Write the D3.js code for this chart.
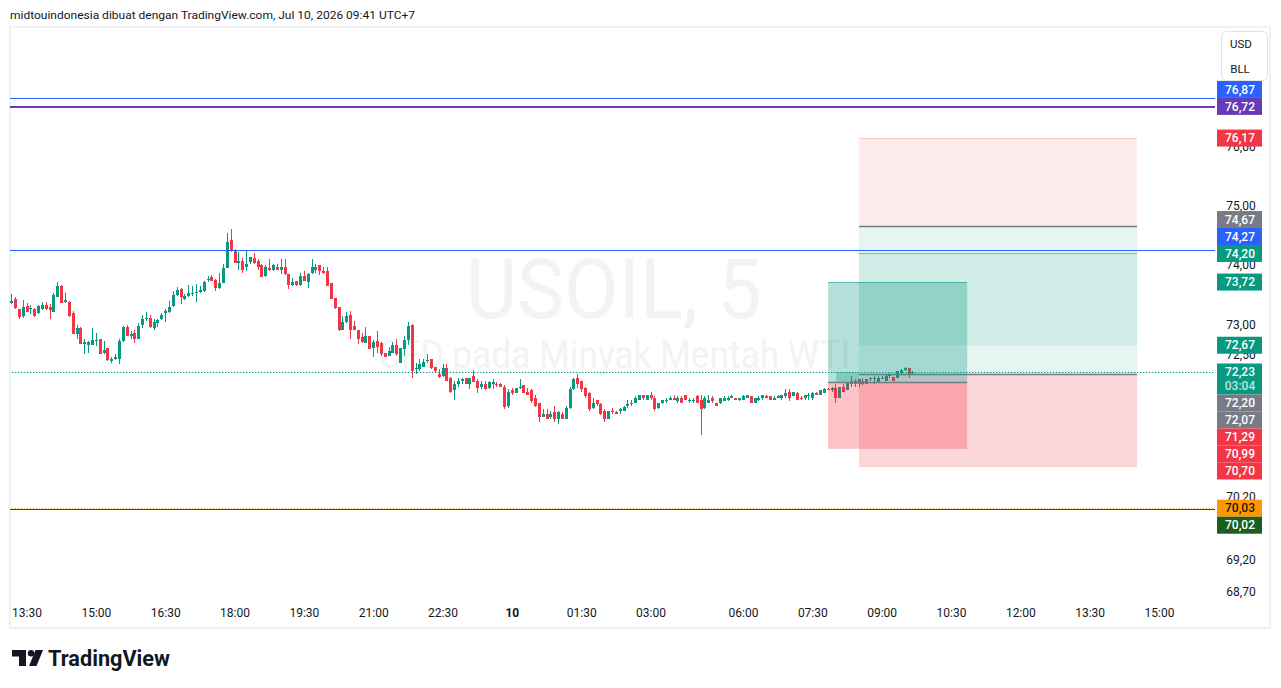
<!DOCTYPE html>
<html>
<head>
<meta charset="utf-8">
<script src="https://cdn.jsdelivr.net/npm/d3@7"></script>
<style>
  body { margin: 0; background: #fff; }
  svg { display: block; font-family: Roboto, "Noto Sans", sans-serif; }
</style>
</head>
<body>
<svg id="chart" width="1281" height="688"></svg>
<script>
// USOIL 5m bars, first bar 13:10 (Jul 9), one hour session break after index 177
const opens = [
  73.37,73.43,73.27,73.15,73.32,73.27,73.27,73.20,73.27,73.33,
  73.30,73.22,73.47,73.65,73.38,73.38,73.20,72.85,72.95,72.69,
  72.67,72.67,72.74,72.77,72.55,72.62,72.41,72.45,72.45,72.74,
  72.97,72.83,72.87,72.78,73.00,73.10,73.12,72.95,73.03,73.10,
  73.20,73.22,73.32,73.50,73.60,73.43,73.48,73.52,73.53,73.55,
  73.57,73.75,73.80,73.75,73.62,73.70,73.95,74.42,74.24,74.04,
  74.07,73.97,74.05,74.12,74.07,74.00,73.82,73.95,73.93,73.98,
  73.93,73.98,73.85,73.67,73.73,73.67,73.82,73.72,73.87,73.93,
  74.00,73.90,73.90,73.70,73.45,73.30,72.93,73.05,73.17,72.98,
  72.92,72.80,72.70,72.82,72.62,72.74,72.70,72.54,72.50,72.55,
  72.67,72.37,72.60,72.75,73.00,72.28,72.28,72.32,72.41,72.44,
  72.31,72.19,72.16,72.29,72.13,71.93,72.04,72.09,72.13,72.03,
  72.16,72.09,71.99,72.04,71.96,72.04,72.04,72.04,71.98,71.67,
  71.93,71.88,71.96,72.01,71.91,71.93,71.80,71.72,71.50,71.55,
  71.49,71.57,71.47,71.55,71.47,71.64,71.95,72.13,72.08,71.96,
  71.88,71.64,71.77,71.70,71.60,71.47,71.59,71.57,71.59,71.60,
  71.67,71.72,71.73,71.78,71.85,71.78,71.86,71.81,71.64,71.72,
  71.75,71.78,71.80,71.75,71.81,71.86,71.77,71.77,71.83,71.78,
  71.64,71.72,71.81,71.72,71.72,71.75,71.77,71.81,71.81,71.77,
  71.78,71.81,71.83,71.73,71.77,71.80,71.83,71.83,71.78,71.81,
  71.80,71.83,71.90,71.83,71.88,71.81,71.80,71.83,71.80,71.88,
  71.86,71.88,71.95,71.93,71.96,71.80,71.99,71.93,72.08,72.03,
  72.11,72.04,72.04,72.11,72.11,72.06,72.11,72.09,72.16,72.14,
  72.13,72.21,72.26,72.29,72.21
];
const highs = [
  73.52,73.47,73.27,73.42,73.37,73.33,73.28,73.33,73.38,73.38,
  73.35,73.53,73.72,73.67,73.53,73.40,73.23,73.00,72.97,72.78,
  72.74,72.95,72.88,72.78,72.74,72.62,72.47,72.52,72.78,72.98,
  73.00,72.90,72.93,73.03,73.17,73.22,73.17,73.10,73.10,73.20,
  73.27,73.40,73.57,73.63,73.62,73.52,73.67,73.65,73.69,73.65,
  73.73,73.82,73.84,73.77,73.87,74.02,74.54,74.61,74.27,74.22,
  74.12,74.24,74.14,74.21,74.10,74.02,74.00,74.10,74.02,74.02,
  74.10,74.10,73.85,73.78,73.73,73.87,73.90,73.87,74.10,74.02,
  74.00,73.98,73.98,73.70,73.45,73.30,73.15,73.22,73.23,73.07,
  72.93,72.87,72.97,72.82,72.75,72.90,72.72,72.54,72.64,72.72,
  72.77,72.62,72.83,73.05,73.02,72.37,72.44,72.45,72.52,72.44,
  72.32,72.28,72.36,72.36,72.14,72.09,72.13,72.13,72.13,72.13,
  72.26,72.11,72.08,72.08,72.09,72.11,72.06,72.05,72.01,71.95,
  71.96,71.96,72.11,72.01,71.96,71.95,71.86,71.73,71.62,71.62,
  71.59,71.67,71.59,71.57,71.67,71.98,72.13,72.19,72.09,71.99,
  71.91,71.80,71.78,71.72,71.62,71.60,71.64,71.59,71.64,71.67,
  71.78,71.77,71.83,71.86,71.86,71.86,71.91,71.83,71.73,71.78,
  71.80,71.83,71.86,71.83,71.83,71.86,71.80,71.81,71.85,71.85,
  71.83,71.85,71.83,71.73,71.81,71.83,71.83,71.85,71.81,71.81,
  71.86,71.85,71.83,71.80,71.83,71.86,71.86,71.83,71.83,71.85,
  71.86,71.95,71.95,71.91,71.90,71.83,71.86,71.88,71.90,71.90,
  71.93,71.96,71.96,71.98,72.03,71.98,72.03,72.06,72.16,72.11,
  72.11,72.13,72.11,72.14,72.16,72.16,72.16,72.19,72.21,72.14,
  72.24,72.28,72.31,72.29,72.25
];
const lows = [
  73.36,73.27,73.10,73.12,73.22,73.18,73.13,73.18,73.25,73.25,
  73.10,73.22,73.47,73.37,73.37,73.13,72.85,72.78,72.69,72.52,
  72.54,72.67,72.65,72.52,72.52,72.41,72.37,72.42,72.36,72.72,
  72.82,72.78,72.70,72.77,72.95,73.07,72.95,72.93,72.97,73.08,
  73.05,73.20,73.30,73.48,73.35,73.42,73.47,73.48,73.38,73.53,
  73.55,73.72,73.73,73.57,73.60,73.70,73.95,74.22,74.04,73.93,
  73.87,73.90,74.02,74.02,73.93,73.80,73.80,73.90,73.90,73.92,
  73.85,73.84,73.60,73.65,73.65,73.65,73.73,73.62,73.85,73.87,
  73.84,73.85,73.65,73.43,73.27,72.90,72.93,73.03,72.78,72.93,
  72.69,72.70,72.70,72.60,72.47,72.54,72.50,72.47,72.49,72.54,
  72.49,72.37,72.49,72.67,72.13,72.19,72.24,72.31,72.37,72.28,
  72.21,72.13,72.14,72.08,71.88,71.78,71.99,72.03,72.03,71.95,
  72.06,71.88,71.95,71.93,71.95,71.95,71.99,71.98,71.62,71.64,
  71.86,71.88,71.95,71.88,71.85,71.73,71.65,71.41,71.49,71.47,
  71.46,71.41,71.39,71.47,71.47,71.62,71.93,71.96,71.91,71.81,
  71.60,71.62,71.68,71.52,71.41,71.46,71.55,71.54,71.55,71.59,
  71.64,71.68,71.72,71.78,71.78,71.78,71.78,71.60,71.62,71.70,
  71.73,71.77,71.77,71.72,71.72,71.77,71.72,71.72,71.72,71.20,
  71.62,71.72,71.73,71.67,71.70,71.75,71.75,71.81,71.77,71.75,
  71.78,71.81,71.73,71.73,71.75,71.78,71.80,71.77,71.78,71.80,
  71.78,71.81,71.75,71.83,71.78,71.78,71.78,71.78,71.78,71.85,
  71.86,71.88,71.93,71.91,71.73,71.80,71.90,71.93,71.99,71.99,
  71.98,72.01,72.04,72.09,72.04,72.06,72.11,72.08,72.13,72.08,
  72.13,72.19,72.24,72.13,72.19
];
const closes = [
  73.40,73.28,73.13,73.30,73.22,73.28,73.15,73.32,73.33,73.27,
  73.25,73.50,73.65,73.37,73.42,73.15,72.85,72.95,72.69,72.72,
  72.72,72.75,72.75,72.52,72.59,72.42,72.45,72.47,72.74,72.97,
  72.82,72.85,72.77,72.98,73.10,73.12,72.97,73.05,73.08,73.17,
  73.23,73.30,73.50,73.58,73.47,73.48,73.53,73.54,73.55,73.58,
  73.72,73.77,73.73,73.62,73.70,73.95,74.39,74.24,74.04,74.07,
  73.93,74.02,74.14,74.04,73.97,73.80,73.98,73.93,74.00,73.92,
  73.97,73.85,73.67,73.72,73.67,73.82,73.73,73.85,73.97,73.98,
  73.90,73.88,73.65,73.43,73.28,72.92,73.05,73.15,72.93,72.93,
  72.77,72.72,72.83,72.60,72.72,72.64,72.52,72.47,72.57,72.67,
  72.52,72.62,72.75,72.98,72.24,72.29,72.36,72.39,72.42,72.29,
  72.24,72.14,72.29,72.09,71.91,72.04,72.08,72.11,72.03,72.13,
  72.06,71.96,72.03,71.95,72.06,72.06,72.03,71.98,71.65,71.91,
  71.88,71.96,71.99,71.88,71.86,71.75,71.67,71.50,71.54,71.47,
  71.55,71.47,71.57,71.47,71.64,71.95,72.11,72.04,71.95,71.83,
  71.62,71.73,71.70,71.54,71.46,71.59,71.57,71.55,71.62,71.65,
  71.70,71.73,71.80,71.85,71.81,71.86,71.80,71.62,71.72,71.77,
  71.78,71.81,71.78,71.80,71.73,71.78,71.78,71.78,71.72,71.62,
  71.81,71.78,71.75,71.68,71.80,71.81,71.81,71.83,71.77,71.80,
  71.83,71.85,71.73,71.80,71.81,71.85,71.81,71.78,71.81,71.83,
  71.85,71.88,71.80,71.90,71.78,71.80,71.86,71.86,71.88,71.86,
  71.93,71.95,71.94,71.96,71.80,71.98,71.91,72.06,72.04,72.09,
  72.03,72.08,72.11,72.13,72.13,72.13,72.13,72.16,72.18,72.09,
  72.24,72.26,72.29,72.19,72.23
];

// time axis (bar index -> label)
const timeTickIdx = [4, 22, 40, 58, 76, 94, 112, 130, 148, 166, 190, 208, 226, 244, 262, 280, 298];
const timeTickLabels = ["13:30","15:00","16:30","18:00","19:30","21:00","22:30","10","01:30","03:00","06:00","07:30","09:00","10:30","12:00","13:30","15:00"];

// price axis ticks
const priceTicks = [76, 75, 74, 73, 72.5, 70.2, 69.2, 68.7];

// horizontal lines drawn on the chart
const hLinePrices = [76.87, 76.72, 74.27, 70.02, 70.03];
const hLineColors = ["#2962FF", "#673AB7", "#2962FF", "#3b4a1c", "#FF9800"];

// position tools: start / end bar index, entry, target, stop
const toolStart = [220.1, 220.1, 212.1];
const toolEnd = [292.3, 292.3, 248.2];
const toolEntry = [74.67, 72.20, 72.07];
const toolTarget = [72.67, 74.20, 73.72];
const toolStop = [76.17, 70.70, 70.99];

// price axis labels
const axisLabelPrices = [76.87, 76.72, 76.17, 74.67, 74.27, 74.20, 73.72, 72.67, 72.23, 72.20, 72.07, 71.29, 70.99, 70.70, 70.03, 70.02];
const lastPrice = 72.23;
const countdown = "03:04";

// ---------------------------------------------------------------
const up = "#089981", down = "#F23645";
const plotL = 10, plotR = 1215, plotT = 29, plotB = 601;

const svg = d3.select("#chart");
const defs = svg.append("defs");

const x = d3.scaleLinear().domain([0, 298]).range([11.1, 11.1 + 298 * 3.852]);
const y = d3.scaleLog().domain([68.57, 78.08]).range([plotB, plotT]);

const fmt = v => v.toFixed(2).replace(".", ",");

defs.append("clipPath").attr("id", "plotClip")
  .append("rect").attr("x", plotL).attr("y", 28)
  .attr("width", plotR - plotL).attr("height", 572);
defs.append("pattern")
  .attr("id", "dotsOrange").attr("patternUnits", "userSpaceOnUse")
  .attr("width", 3).attr("height", 1)
  .append("rect").attr("width", 1).attr("height", 1).attr("fill", "#FF9800");
defs.append("pattern")
  .attr("id", "dotsTeal").attr("patternUnits", "userSpaceOnUse")
  .attr("width", 3).attr("height", 2)
  .append("rect").attr("width", 1.4).attr("height", 2).attr("fill", up);

// header
svg.append("text")
  .attr("x", 10).attr("y", 18.5)
  .attr("font-size", 11.5).attr("fill", "#131722")
  .attr("textLength", 405).attr("lengthAdjust", "spacingAndGlyphs")
  .text("midtouindonesia dibuat dengan TradingView.com, Jul 10, 2026 09:41 UTC+7");

// frame
svg.append("rect")
  .attr("x", 10).attr("y", 27).attr("width", 1260).attr("height", 601)
  .attr("fill", "none").attr("stroke", "#eff1f4").attr("stroke-width", 2);

const plot = svg.append("g").attr("clip-path", "url(#plotClip)");

// watermark
plot.append("text")
  .attr("x", 614).attr("y", 318)
  .attr("text-anchor", "middle").attr("font-size", 84)
  .attr("fill", "#f3f3f4")
  .attr("textLength", 296).attr("lengthAdjust", "spacingAndGlyphs")
  .text("USOIL, 5");
plot.append("text")
  .attr("x", 614).attr("y", 368)
  .attr("text-anchor", "middle").attr("font-size", 39)
  .attr("fill", "#f3f3f4")
  .attr("textLength", 472).attr("lengthAdjust", "spacingAndGlyphs")
  .text("CFD pada Minyak Mentah WTI");

// candles
const bars = opens.map((o, i) => ({ i, o, h: highs[i], l: lows[i], c: closes[i] }));
const colorOf = d => d.c >= d.o ? up : down;

plot.append("g").selectAll("rect")
  .data(bars).join("rect")
  .attr("x", d => Math.round(x(d.i)))
  .attr("y", d => Math.round(y(d.h)))
  .attr("width", 1)
  .attr("height", d => Math.max(1, Math.round(y(d.l)) - Math.round(y(d.h))))
  .attr("fill", colorOf);

plot.append("g").selectAll("rect")
  .data(bars).join("rect")
  .attr("x", d => Math.round(x(d.i)) - 1)
  .attr("y", d => Math.round(y(Math.max(d.o, d.c))))
  .attr("width", 3)
  .attr("height", d => Math.max(1, Math.round(y(Math.min(d.o, d.c))) - Math.round(y(Math.max(d.o, d.c)))))
  .attr("fill", colorOf);

// position tools
const profitAlpha = [0.1, 0.1, 0.3];
const stopAlpha = [0.1, 0.2, 0.3];
const targetLineAlpha = [0, 0.55, 0.55];
const tools = toolEntry.map((e, i) => ({
  x0: x(toolStart[i]), x1: x(toolEnd[i]), entry: e, target: toolTarget[i], stop: toolStop[i],
  pa: profitAlpha[i], sa: stopAlpha[i], ta: targetLineAlpha[i]
}));
const tg = plot.append("g");
tools.forEach(t => {
  const ye = y(t.entry), yt = y(t.target), ys = y(t.stop);
  tg.append("rect").attr("x", t.x0).attr("width", t.x1 - t.x0)
    .attr("y", Math.min(ye, yt)).attr("height", Math.abs(yt - ye))
    .attr("fill", `rgba(8,153,129,${t.pa})`);
  tg.append("rect").attr("x", t.x0).attr("width", t.x1 - t.x0)
    .attr("y", Math.min(ye, ys)).attr("height", Math.abs(ys - ye))
    .attr("fill", `rgba(242,54,69,${t.sa})`);
  if (t.ta > 0) {
    tg.append("rect").attr("x", t.x0).attr("width", t.x1 - t.x0)
      .attr("y", Math.round(yt)).attr("height", 1)
      .attr("fill", `rgba(8,153,129,${t.ta})`);
  }
  tg.append("rect").attr("x", t.x0).attr("width", t.x1 - t.x0)
    .attr("y", Math.round(ys)).attr("height", 1)
    .attr("fill", "rgba(242,54,69,0.2)");
  tg.append("rect").attr("x", t.x0).attr("width", t.x1 - t.x0)
    .attr("y", Math.round(ye) - 0.25).attr("height", 1.5)
    .attr("fill", "#787B86");
});
// small overlap patch at the entry of the smaller tool
tg.append("rect")
  .attr("x", x(214.2)).attr("width", x(220.1) - x(214.2))
  .attr("y", y(lastPrice)).attr("height", y(toolEntry[2]) - y(lastPrice))
  .attr("fill", "rgba(8,153,129,0.3)");

// horizontal lines (as 1px bands)
const lineRow = d => d === 70.03 ? Math.round(y(d)) : Math.round(y(d) + 0.5);
plot.append("g").selectAll("rect")
  .data(hLinePrices).join("rect")
  .attr("x", plotL).attr("width", plotR - plotL)
  .attr("y", d => lineRow(d) - (d === 76.72 ? 1 : 0))
  .attr("height", d => d === 76.72 ? 2 : 1)
  .attr("fill", (d, i) => d === 70.03 ? "url(#dotsOrange)" : hLineColors[i]);

// last price dotted line
plot.append("rect")
  .attr("x", plotL).attr("width", plotR - plotL)
  .attr("y", Math.round(y(lastPrice))).attr("height", 1)
  .attr("fill", "url(#dotsTeal)");

// time axis
const xAxis = d3.axisBottom(x).tickValues(timeTickIdx)
  .tickFormat((d, i) => timeTickLabels[i]).tickSize(0).tickPadding(0);
const xg = svg.append("g").attr("transform", `translate(0, 609)`).call(xAxis);
xg.select(".domain").remove();
xg.selectAll("text")
  .attr("font-size", 12).attr("font-family", "Roboto, sans-serif")
  .attr("fill", "#131722").attr("dy", "0.32em").attr("y", 4.5)
  .attr("font-weight", (d, i) => timeTickLabels[i] === "10" ? 700 : 400);

// price axis
const yAxis = d3.axisRight(y).tickValues(priceTicks).tickFormat(fmt).tickSize(0).tickPadding(0);
const yg = svg.append("g").attr("transform", `translate(1241, -1)`).call(yAxis);
yg.select(".domain").remove();
yg.selectAll("text")
  .attr("font-size", 12).attr("font-family", "Roboto, sans-serif")
  .attr("fill", "#131722").attr("text-anchor", "middle").attr("x", 0);

// price labels with stacking
const labelFill = ["#2962FF","#673AB7","#F23645","#787B86","#2962FF","#089981","#089981","#089981","#089981","#787B86","#787B86","#F23645","#F23645","#F23645","#FF9800","#1B5E20"];
const items = axisLabelPrices.map((p, i) => ({ p, fill: labelFill[i], y0: y(p) }));
const half = 8.5;
const cur = items.find(d => d.p === lastPrice);
cur.top = cur.y0 - half; cur.bottom = cur.top + 31; cur.cy = cur.y0;
let edge = cur.top;
items.filter(d => d.p > lastPrice).sort((a, b) => b.y0 - a.y0).forEach(d => {
  d.cy = Math.min(d.y0, edge - half); d.top = d.cy - half; d.bottom = d.cy + half; edge = d.top;
});
edge = cur.bottom;
items.filter(d => d.p < lastPrice).sort((a, b) => a.y0 - b.y0).forEach(d => {
  d.cy = Math.max(d.y0, edge + half); d.top = d.cy - half; d.bottom = d.cy + half; edge = d.bottom;
});

const lg = svg.append("g");
items.forEach(d => {
  lg.append("rect").attr("x", 1217).attr("width", 45)
    .attr("y", d.top).attr("height", d.bottom - d.top).attr("fill", d.fill);
  lg.append("text").attr("x", 1240).attr("y", d.cy).attr("dy", "0.35em")
    .attr("text-anchor", "middle").attr("font-size", 12).attr("font-weight", 500)
    .attr("fill", d.fill === "#FF9800" ? "#131722" : "#fff")
    .text(fmt(d.p));
});
lg.append("text").attr("x", 1240).attr("y", cur.cy + 14).attr("dy", "0.35em")
  .attr("text-anchor", "middle").attr("font-size", 12).attr("font-weight", 500)
  .attr("fill", "rgba(255,255,255,0.75)").text(countdown);

// currency / unit box
svg.append("rect").attr("x", 1221.5).attr("y", 31.5).attr("width", 46).attr("height", 49).attr("rx", 4)
  .attr("fill", "#fff").attr("stroke", "#e0e3eb");
svg.append("text").attr("x", 1241).attr("y", 44).attr("dy", "0.35em").attr("text-anchor", "middle")
  .attr("font-size", 11.5).attr("fill", "#131722").text("USD");
svg.append("text").attr("x", 1240).attr("y", 69).attr("dy", "0.35em").attr("text-anchor", "middle")
  .attr("font-size", 11.5).attr("fill", "#131722").text("BLL");

// TradingView logo
const logo = svg.append("g").attr("fill", "#131722");
logo.append("path").attr("d", "M12,650 H26 V666 H19 V656.5 H12 Z");
logo.append("circle").attr("cx", 31).attr("cy", 653.2).attr("r", 3.2);
logo.append("path").attr("d", "M35.5,650 H43 L36.5,666 H29 Z");
logo.append("text").attr("x", 48).attr("y", 666)
  .attr("font-size", 22).attr("font-weight", 700)
  .attr("textLength", 122).attr("lengthAdjust", "spacingAndGlyphs")
  .text("TradingView");
</script>
</body>
</html>
